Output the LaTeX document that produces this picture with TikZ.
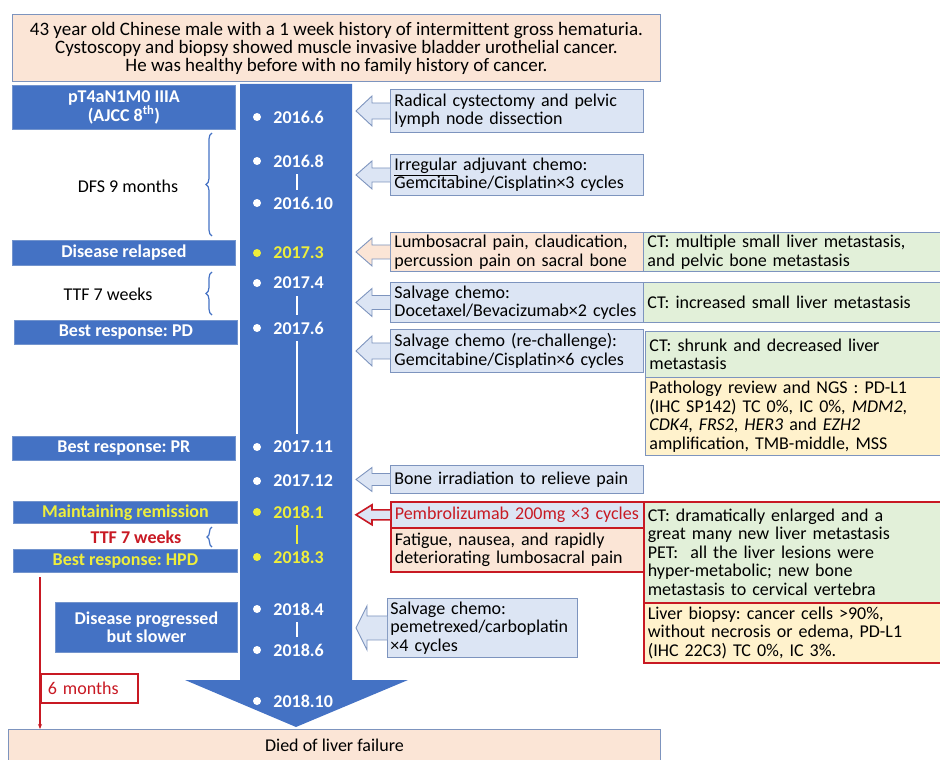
\documentclass[tikz,border=0pt]{standalone}
\usepackage{fontspec}
\setmainfont{Carlito}
\usetikzlibrary{positioning,decorations.pathreplacing,arrows.meta}
\AtBeginDocument{\fontsize{18}{18.5}\selectfont\frenchspacing}
\definecolor{tblue}{RGB}{68,114,196}
\definecolor{tedge}{RGB}{115,148,205}
\definecolor{lblue}{RGB}{220,229,244}
\definecolor{cedge}{RGB}{125,148,190}
\definecolor{peach}{RGB}{251,229,214}
\definecolor{lgreen}{RGB}{226,240,217}
\definecolor{lyellow}{RGB}{255,242,204}
\definecolor{dred}{RGB}{200,25,35}
\definecolor{yel}{RGB}{238,238,60}
\begin{document}
\begin{tikzpicture}[x=1pt,y=-1pt,
    lbox/.style={fill=tblue, draw=tedge, line width=0.8pt, text=white, font=\bfseries,
      anchor=north west, inner sep=0pt, align=center},
    cbox/.style={fill=lblue, draw=cedge, line width=0.9pt, anchor=north west,
      inner xsep=4pt, inner ysep=0pt, align=left},
    redbox/.style={draw=dred, line width=1.6pt},
    dot/.style={circle, inner sep=0pt, minimum size=8pt},
    date/.style={font=\bfseries, inner sep=2pt},
    dbar/.style={line width=1.6pt, shorten <=5pt, shorten >=5pt},
    blbrace/.style={draw=tblue, line width=1.2pt, decorate, decoration={brace, amplitude=6pt}}]
    \useasboundingbox (0,0) rectangle (940,760);
    % patient summary
    \node[fill=peach, draw=cedge, line width=0.9pt, anchor=north west, inner sep=0pt,
      minimum width=648, minimum height=67, align=center, font=\fontsize{19}{18}\selectfont] (intro) at (12,14)
      {43 year old Chinese male with a 1 week history of intermittent gross hematuria.\\
       Cystoscopy and biopsy showed muscle invasive bladder urothelial cancer.\\
       He was healthy before with no family history of cancer.};
    % timeline arrow
    \fill[tblue] (240,84) -- (352,84) -- (352,680) -- (408,680) -- (296,727)
      -- (185,680) -- (240,680) -- cycle;
    \foreach \i/\d/\y/\c in {1/2016.6/117/white, 2/2016.8/161/white, 3/2016.10/203/white,
        4/2017.3/253/yel, 5/2017.4/283/white, 6/2017.6/328/white, 7/2017.11/447/white,
        8/2017.12/481/white, 9/2018.1/512/yel, 10/2018.3/557/yel, 11/2018.4/609/white,
        12/2018.6/650/white, 13/2018.10/701/white} {
      \node[dot, fill=\c] (b\i) at (257,\y) {};
      \node[date, text=\c, right=10pt of b\i] (d\i) {\d};
    }
    \foreach \a/\b/\c in {2/3/white, 5/6/white, 6/7/white, 9/10/yel, 11/12/white}
      \draw[dbar, \c] ([xshift=26pt]d\a.south west) -- ([xshift=26pt]d\b.north west);
    % left column
    \node[lbox, minimum width=223, minimum height=44] (stage) at (12,85)
      {pT4aN1M0 IIIA\\(AJCC 8\textsuperscript{th})};
    \node (dfs) at (128,186) {DFS 9 months};
    \draw[blbrace] (212,236) -- (212,133);
    \node[lbox, minimum width=223, minimum height=25] (relapse) at (12,240) {Disease relapsed};
    \node (ttfa) at (108,294) {TTF 7 weeks};
    \draw[blbrace] (212,315) -- (212,272);
    \node[lbox, minimum width=223, minimum height=24] (pd) at (14,320) {Best response: PD};
    \node[lbox, minimum width=223, minimum height=24] (pr) at (12,436) {Best response: PR};
    \node[lbox, text=yel, minimum width=224, minimum height=22] (remis) at (13,501)
      {Maintaining remission};
    \node[text=dred, font=\bfseries] (ttfb) at (136,537) {TTF 7 weeks};
    \draw[blbrace, decoration={amplitude=5pt}] (212,547) -- (212,527);
    \node[lbox, text=yel, minimum width=224, minimum height=23] (hpd) at (13,549)
      {Best response: HPD};
    \node[lbox, minimum width=182, minimum height=50] (slower) at (55,602)
      {Disease progressed\\but slower};
    \node[fill=peach, draw=cedge, line width=0.9pt, anchor=north west, inner sep=0pt,
      minimum width=652, minimum height=31] (died) at (8,729) {Died of liver failure};
    \coordinate (hpdfoot) at (40,577);
    \draw[dred, line width=1.2pt, -{Stealth[length=5pt,width=4pt]}] (hpdfoot) -- (hpdfoot |- died.north);
    \node[redbox, fill=white, text=dred, anchor=north west, inner xsep=7pt, inner ysep=0pt,
      minimum width=97, minimum height=29, text width=83, align=left] (six) at (40,673) {6 months};
    % right column
    \node[cbox, minimum height=43, text width=245] (rad) at (390,89)
      {Radical cystectomy and pelvic\\lymph node dissection};
    \node[cbox, minimum height=41, text width=245] (adj) at (390,154)
      {\underline{Irregular} adjuvant chemo:\\Gemcitabine/Cisplatin×3 cycles};
    \node[cbox, fill=peach, minimum height=39, text width=245] (lumbo) at (390,232)
      {Lumbosacral pain, claudication,\\percussion pain on sacral bone};
    \node[cbox, fill=lgreen, minimum height=39, text width=289] (cta) at (643,232)
      {CT: multiple small liver metastasis,\\and pelvic bone metastasis};
    \node[cbox, minimum height=40, text width=245] (doce) at (390,282)
      {Salvage chemo:\\Docetaxel/Bevacizumab×2 cycles};
    \node[cbox, fill=lgreen, minimum height=40, text width=289] (ctb) at (643,282)
      {CT: increased small liver metastasis};
    \node[cbox, minimum height=43, text width=245] (gem) at (390,329)
      {Salvage chemo (re-challenge):\\Gemcitabine/Cisplatin×6 cycles};
    \node[cbox, fill=lgreen, minimum height=46, text width=287] (ctc) at (645,331)
      {CT: shrunk and decreased liver\\metastasis};
    \node[cbox, fill=lyellow, minimum height=78, text width=287] (ngs) at (645,377)
      {Pathology review and NGS : PD-L1\\(IHC SP142) TC 0\%, IC 0\%, \textit{MDM2},\\
       \textit{CDK4}, \textit{FRS2}, \textit{HER3} and \textit{EZH2}\\amplification, TMB-middle, MSS};
    \node[cbox, minimum height=28, text width=245] (bone) at (390,465)
      {Bone irradiation to relieve pain};
    \node[cbox, redbox, text=dred, minimum height=26, text width=245] (pembro) at (390,501)
      {Pembrolizumab 200mg ×3 cycles};
    \node[cbox, redbox, fill=peach, minimum height=44, text width=245] (fatigue) at (390,527)
      {Fatigue, nausea, and rapidly\\deteriorating lumbosacral pain};
    \node[cbox, redbox, fill=lgreen, minimum height=101, text width=289] (ctd) at (643,501)
      {CT: dramatically enlarged and a\\great many new liver metastasis\\
       PET:~ all the liver lesions were\\hyper-metabolic; new bone\\
       metastasis to cervical vertebra};
    \node[cbox, redbox, fill=lyellow, minimum height=60, text width=289] (biopsy) at (643,602)
      {Liver biopsy: cancer cells >90\%,\\without necrosis or edema, PD-L1\\(IHC 22C3) TC 0\%, IC 3\%.};
    \node[cbox, inner xsep=3pt, minimum height=59, text width=184] (peme) at (387,598)
      {Salvage chemo:\\pemetrexed/carboplatin\\×4 cycles};
    % callout arrows pointing at the timeline
    \foreach \n/\hh/\sh/\sl/\hl/\fc/\dc/\lw in {rad/15/8/18/16/lblue/cedge/0.9,
        adj/14/7/18/16/lblue/cedge/0.9, lumbo/14/7/18/16/peach/cedge/0.9,
        doce/14/7/18/16/lblue/cedge/0.9, gem/15/8/18/16/lblue/cedge/0.9,
        bone/12/6/18/16/lblue/cedge/0.9, pembro/10/5/18/16/lblue/dred/1.6,
        peme/22/12/20/11/lblue/cedge/0.9}
      \filldraw[fill=\fc, draw=\dc, line width=\lw pt] (\n.west) ++(0,-\sh) -- ++(-\sl,0)
        -- ++(0,\sh-\hh) -- ++(-\hl,\hh) -- ++(\hl,\hh) -- ++(0,\sh-\hh) -- ++(\sl,0);
\end{tikzpicture}
\end{document}
